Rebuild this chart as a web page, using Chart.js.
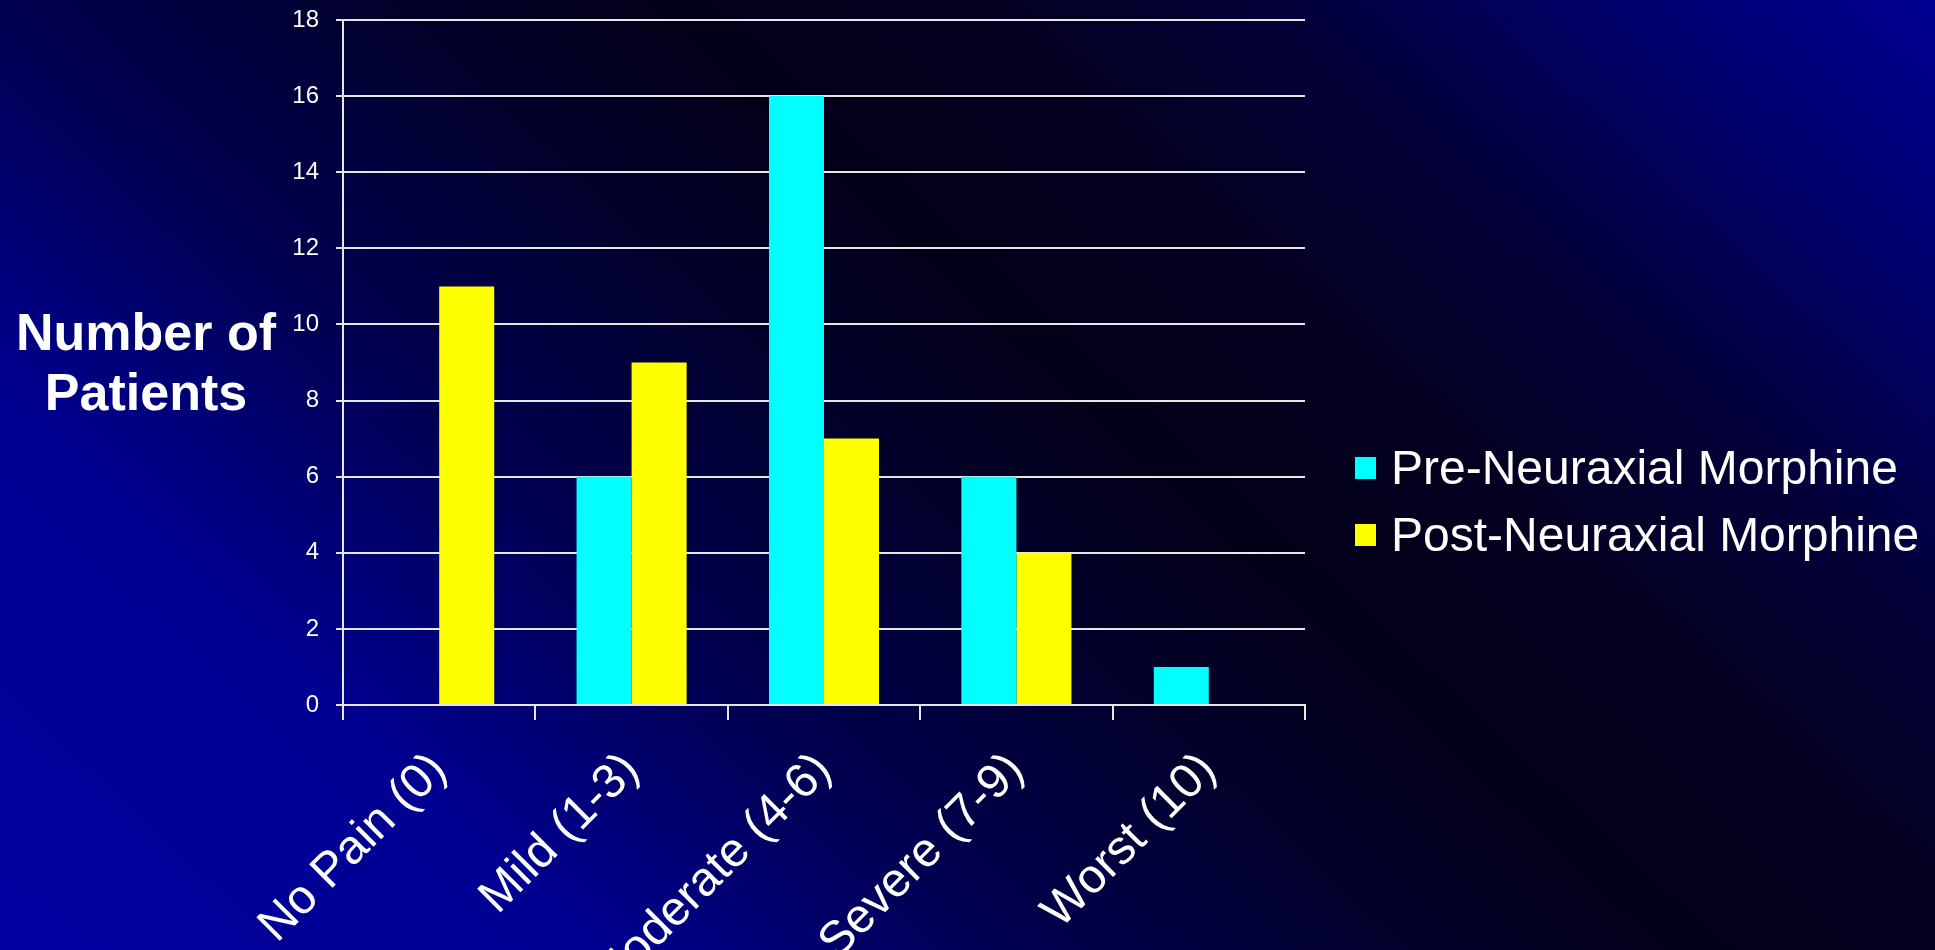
<!DOCTYPE html>
<html>
<head>
<meta charset="utf-8">
<title>Pain scores</title>
<script src="https://cdn.jsdelivr.net/npm/chart.js@4"></script>
<style>
  html, body {
    margin: 0;
    padding: 0;
    width: 1935px;
    height: 950px;
    overflow: hidden;
  }
  body {
    background: linear-gradient(43deg, #0000a0 0%, #000092 20%, #000052 34%, #02002a 48%, #020018 57%, #040020 67%, #03003a 78%, #000070 90%, #000092 100%);
  }
  canvas { display: block; }
</style>
</head>
<body>
<canvas id="chart" width="1935" height="950"></canvas>
<script>
const categories = ['No Pain (0)', 'Mild (1-3)', 'Moderate (4-6)', 'Severe (7-9)', 'Worst (10)']
const preMorphine = [0, 6, 16, 6, 1]
const postMorphine = [11, 9, 7, 4, 0]
const seriesNames = ['Pre-Neuraxial Morphine', 'Post-Neuraxial Morphine']
const yTitleLines = ['Number of', 'Patients']

const FONT = '"Liberation Sans", Arial, Helvetica, sans-serif'

// horizontal two-line axis title on the left
const yTitle = {
  id: 'yTitle',
  afterDraw (chart) {
    const ctx = chart.ctx
    ctx.save()
    ctx.fillStyle = '#ffffff'
    ctx.font = 'bold 52px ' + FONT
    ctx.textAlign = 'center'
    ctx.textBaseline = 'alphabetic'
    yTitleLines.forEach((line, i) => {
      ctx.fillText(line, 146, 350 + i * 60)
    })
    ctx.restore()
  }
}

// legend to the right of the plot
const sideLegend = {
  id: 'sideLegend',
  afterDraw (chart) {
    const ctx = chart.ctx
    const x = chart.chartArea.right + 50
    ctx.save()
    ctx.font = '48px ' + FONT
    ctx.textBaseline = 'alphabetic'
    chart.data.datasets.forEach((ds, i) => {
      const base = 484 + i * 67
      ctx.fillStyle = ds.backgroundColor
      ctx.fillRect(x, base - 27, 21, 22)
      ctx.fillStyle = '#ffffff'
      ctx.fillText(ds.label, x + 36, base)
    })
    ctx.restore()
  }
}

new Chart(document.getElementById('chart'), {
  type: 'bar',
  data: {
    labels: categories,
    datasets: [
      { label: seriesNames[0], data: preMorphine, backgroundColor: '#00ffff', borderWidth: 0 },
      { label: seriesNames[1], data: postMorphine, backgroundColor: '#ffff00', borderWidth: 0 }
    ]
  },
  options: {
    responsive: false,
    devicePixelRatio: 1,
    animation: false,
    categoryPercentage: 0.572,
    barPercentage: 1,
    layout: { padding: { left: 263, right: 630, top: 20, bottom: 0 } },
    plugins: {
      legend: { display: false },
      tooltip: { enabled: false }
    },
    scales: {
      x: {
        grid: {
          drawOnChartArea: false,
          drawTicks: true,
          tickLength: 15,
          color: '#e6e6e6',
          lineWidth: 2
        },
        border: { display: true, color: '#e6e6e6', width: 2 },
        ticks: {
          color: '#ffffff',
          font: { family: FONT, size: 48 },
          minRotation: 45,
          maxRotation: 45,
          autoSkip: false,
          padding: 22
        },
        afterFit (scale) {
          scale.height = 245
          scale.paddingLeft = 0
          scale.paddingRight = 0
        }
      },
      y: {
        min: 0,
        max: 18,
        grid: {
          color: '#e6e6e6',
          lineWidth: 2,
          tickLength: 7
        },
        border: { display: true, color: '#e6e6e6', width: 2 },
        ticks: {
          stepSize: 2,
          color: '#ffffff',
          font: { family: FONT, size: 24 },
          padding: 17
        },
        afterFit (scale) {
          scale.width = 80
          scale.paddingTop = 0
          scale.paddingBottom = 0
        }
      }
    }
  },
  plugins: [yTitle, sideLegend]
})
</script>
</body>
</html>
